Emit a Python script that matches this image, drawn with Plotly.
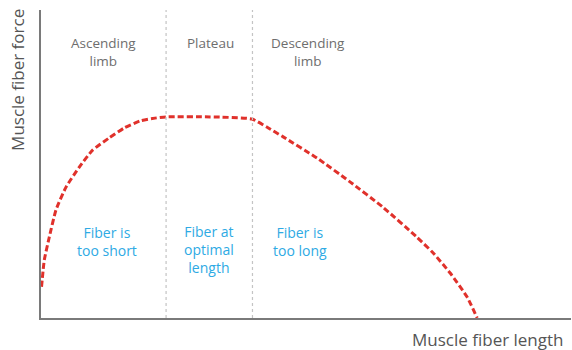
import plotly.graph_objects as go

# Curve (abstract units: x 0-100 length, y 0-100 force)
fiber_length = [0.1, 0.62, 1.57, 2.83, 4.72, 7.23, 9.74, 12.8, 15.7, 18.7, 21.5, 23.6,
                31.9, 39.8, 42.6, 45.7, 52.1, 58.3, 64.5, 70.9, 74.0, 77.2, 80.4, 82.3]
fiber_force = [10.1, 18.8, 26.3, 35.1, 42.5, 49.0, 54.5, 58.4, 61.7, 64.0, 64.9, 65.3,
               65.3, 64.6, 62.0, 58.8, 51.9, 44.2, 36.0, 26.3, 21.1, 14.6, 6.8, 0.0]

region_bounds = [23.6, 39.9]

region_labels = ["Ascending<br>limb", "Plateau", "Descending<br>limb"]
region_label_x = [11.7, 31.9, 50.4]
region_label_y = [86.4, 89.3, 86.4]

state_labels = ["Fiber is<br>too short", "Fiber at<br>optimal<br>length", "Fiber is<br>too long"]
state_label_x = [12.5, 31.7, 48.9]
state_label_y = [25.0, 22.1, 25.0]

y_title = "Muscle fiber force"
x_title = "Muscle fiber length"

FONT = "Open Sans"

fig = go.Figure()
fig.add_trace(go.Scatter(
    x=fiber_length, y=fiber_force, mode="lines",
    line=dict(color="#e0312b", width=3, dash="6px,3px", shape="spline", smoothing=0.5),
    hoverinfo="skip", showlegend=False))

for xb in region_bounds:
    fig.add_trace(go.Scatter(
        x=[xb, xb], y=[0, 100], mode="lines",
        line=dict(color="#c4c4c4", width=1.2, dash="dot"),
        hoverinfo="skip", showlegend=False))

annotations = []
for t, x, y in zip(region_labels, region_label_x, region_label_y):
    annotations.append(dict(x=x, y=y, xref="x", yref="y", text=t, showarrow=False,
                            font=dict(family=FONT, size=13.5, color="#6e6e6e"), align="center"))
for t, x, y in zip(state_labels, state_label_x, state_label_y):
    annotations.append(dict(x=x, y=y, xref="x", yref="y", text=t, showarrow=False,
                            font=dict(family=FONT, size=14, color="#2eaae4"), align="center"))

annotations.append(dict(x=-0.0434, y=0.773, xref="paper", yref="paper", text=y_title,
                        xanchor="center", yanchor="middle",
                        showarrow=False, textangle=-90,
                        font=dict(family=FONT, size=17, color="#555555")))
annotations.append(dict(x=0.843, y=-0.0714, xref="paper", yref="paper", text=x_title,
                        xanchor="center", yanchor="middle",
                        showarrow=False, font=dict(family=FONT, size=17, color="#555555")))

fig.update_layout(
    width=572, height=350,
    margin=dict(l=41, r=1, t=10, b=32),
    paper_bgcolor="white", plot_bgcolor="white",
    annotations=annotations,
    xaxis=dict(range=[0, 100], showline=True, linecolor="#7a7a7a", linewidth=2,
               showgrid=False, zeroline=False, showticklabels=False, ticks=""),
    yaxis=dict(range=[0, 100], showline=True, linecolor="#7a7a7a", linewidth=2,
               showgrid=False, zeroline=False, showticklabels=False, ticks=""),
)

fig.write_html("out.html", config={"displayModeBar": False},
               post_script="document.body.style.margin='0px';document.body.style.overflow='hidden';")
